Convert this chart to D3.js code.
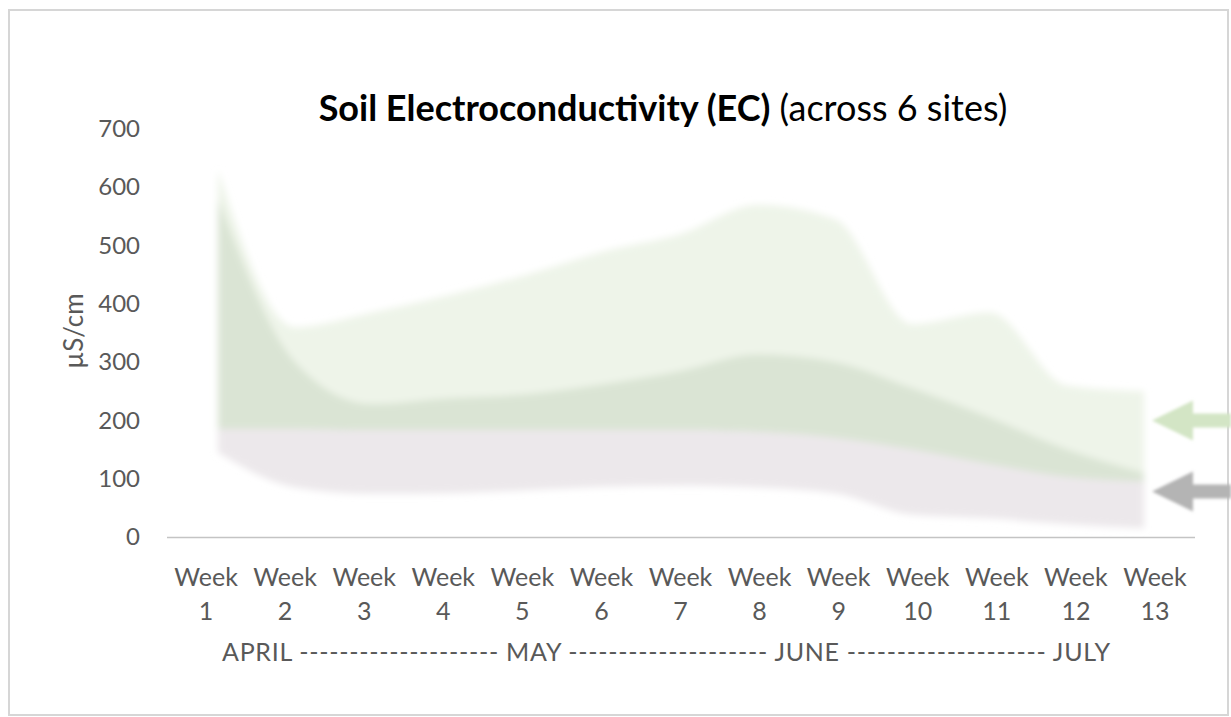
<!DOCTYPE html>
<html>
<head>
<meta charset="utf-8">
<script src="https://cdn.jsdelivr.net/npm/d3@7"></script>
<style>
  body { margin: 0; background: #fff; }
  svg { display: block; }
  text { font-family: Lato, "Open Sans", sans-serif; }
</style>
</head>
<body>
<svg id="chart" width="1231" height="717"></svg>
<script>
// Weekly soil EC readings across the six sites (µS/cm)
const weeks = ["1", "2", "3", "4", "5", "6", "7", "8", "9", "10", "11", "12", "13"];
const siteMax    = [630, 360, 385, 415, 450, 490, 520, 570, 545, 365, 385, 260, 250];
const siteUpper  = [580, 300, 228, 238, 245, 262, 285, 313, 300, 255, 205, 150, 110];
const siteMiddle = [185, 185, 183, 183, 183, 183, 183, 180, 170, 150, 125, 103, 95];
const siteMin    = [145, 85, 74, 75, 80, 86, 88, 85, 75, 38, 32, 22, 15];
const yTicks = [0, 100, 200, 300, 400, 500, 600, 700];
const monthRow = "APRIL -------------------- MAY -------------------- JUNE -------------------- JULY";
const markerValues = [200, 78];

const svg = d3.select("#chart");

// Frame around the whole chart
svg.append("rect")
  .attr("x", 9).attr("y", 10).attr("width", 1219).attr("height", 705)
  .attr("fill", "#fff").attr("stroke", "#d6d6d6").attr("stroke-width", 2);

const y = d3.scaleLinear().domain([0, 700]).range([537, 129]);
const xBand = d3.scaleBand().domain(weeks).range([166.5, 1194.5]);
const xArea = d3.scalePoint().domain(weeks).range([218, 1144]);

// Soft-edged bands
const defs = svg.append("defs");
defs.append("filter").attr("id", "soft")
  .attr("x", "-5%").attr("y", "-10%").attr("width", "110%").attr("height", "120%")
  .append("feGaussianBlur").attr("stdDeviation", 3.5);
defs.append("filter").attr("id", "softer")
  .attr("x", "-20%").attr("y", "-40%").attr("width", "140%").attr("height", "180%")
  .append("feGaussianBlur").attr("stdDeviation", 1.5);

const band = (lo, hi) => d3.area()
  .x((d, i) => xArea(weeks[i]))
  .y0((d, i) => y(lo[i]))
  .y1((d, i) => y(hi[i]))
  .curve(d3.curveMonotoneX)(weeks);

const g = svg.append("g").attr("filter", "url(#soft)");
g.append("path").attr("d", band(siteMiddle, siteMax)).attr("fill", "#eef4e9");
g.append("path").attr("d", band(siteMiddle, siteUpper)).attr("fill", "#dae4d4");
g.append("path").attr("d", band(siteMin, siteMiddle)).attr("fill", "#ece8eb");

// Category axis
const xAxis = svg.append("g")
  .attr("transform", "translate(0,537)")
  .call(d3.axisBottom(xBand).tickSize(0).tickPadding(0).tickFormat(""));
xAxis.select(".domain").attr("stroke", "#c4c4c4").attr("stroke-width", 1.5);
xAxis.selectAll(".tick").each(function (d) {
  const t = d3.select(this).append("text")
    .attr("fill", "#595959").attr("font-size", 25).attr("text-anchor", "middle");
  t.append("tspan").attr("x", 0).attr("y", 49).text("Week");
  t.append("tspan").attr("x", 0).attr("y", 83).text(d);
});

svg.append("text")
  .attr("x", 666).attr("y", 661)
  .attr("text-anchor", "middle")
  .attr("fill", "#595959").attr("font-size", 25)
  .attr("textLength", 888).attr("lengthAdjust", "spacing")
  .text(monthRow);

// Value axis
const yAxis = svg.append("g")
  .attr("transform", "translate(146,0)")
  .call(d3.axisLeft(y).tickValues(yTicks).tickSize(0).tickPadding(6));
yAxis.select(".domain").remove();
yAxis.selectAll("text")
  .attr("fill", "#595959").attr("font-size", 24)
  .style("font-family", "Lato, sans-serif");

svg.append("text")
  .attr("transform", "translate(83,331) rotate(-90)")
  .attr("text-anchor", "middle")
  .attr("fill", "#595959").attr("font-size", 26)
  .text("µS/cm");

// Title
const title = svg.append("text")
  .attr("x", 663).attr("y", 121)
  .attr("text-anchor", "middle")
  .attr("fill", "#000").attr("font-size", 36);
title.append("tspan").attr("font-weight", "bold").text("Soil Electroconductivity (EC)");
title.append("tspan").text(" (across 6 sites)");

// Pointer arrows at the right edge
const arrowColors = ["#d3e5c5", "#b4b4b4"];
const arrowPath = v => {
  const c = y(v);
  return `M1152,${c} L1193,${c - 20} L1193,${c - 7} L1231,${c - 7} L1231,${c + 7} L1193,${c + 7} L1193,${c + 20} Z`;
};
svg.append("g").attr("filter", "url(#softer)")
  .selectAll("path").data(markerValues).join("path")
  .attr("d", d => arrowPath(d))
  .attr("fill", (d, i) => arrowColors[i]);
</script>
</body>
</html>
